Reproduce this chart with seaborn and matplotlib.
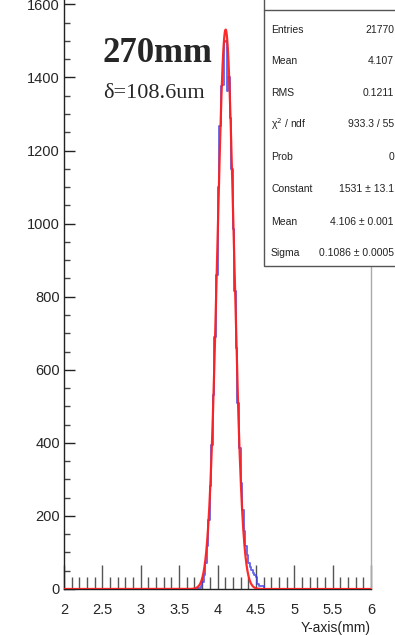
import numpy as np
import pandas as pd
import matplotlib
matplotlib.use("Agg")
import matplotlib.pyplot as plt
import seaborn as sns
from matplotlib.patches import Rectangle
from matplotlib.ticker import MultipleLocator

# ---- data ----
bin_edges_start = 3.70
bin_width = 0.02
hist_counts = [0, 0, 2, 4, 9, 20, 38, 70, 118, 190, 282, 395, 530, 690, 860,
               1100, 1266, 1378, 1380, 1496, 1500, 1362, 1400, 1290, 1150,
               985, 815, 660, 510, 385, 290, 215, 160, 118, 92, 72, 60, 52,
               45, 38, 33, 14, 8, 8, 8, 1]
fit_constant = 1531.0
fit_mean = 4.106
fit_sigma = 0.1086
stat_labels = ["Entries", "Mean", "RMS", "\u03c7$^2$ / ndf", "Prob",
               "Constant", "Mean", "Sigma"]
stat_values = ["21770", "4.107", "0.1211", "933.3 / 55", "0",
               "1531 \u00b1 13.1", "4.106 \u00b1 0.001", "0.1086 \u00b1 0.0005"]
x_ticks = [2, 2.5, 3, 3.5, 4, 4.5, 5, 5.5, 6]
x_tick_labels = ["2", "2.5", "3", "3.5", "4", "4.5", "5", "5.5", "6"]
y_ticks = [0, 200, 400, 600, 800, 1000, 1200, 1400, 1600]
title_text = "270mm"
sub_text = "\u03b4=108.6um"
x_label = "Y-axis(mm)"

n = len(hist_counts)
n_left = int(round((bin_edges_start - 2.0) / bin_width))
n_total = int(round(4.0 / bin_width))
all_centers = 2.0 + bin_width * (np.arange(n_total) + 0.5)
all_counts = np.zeros(n_total)
all_counts[n_left:n_left + n] = hist_counts
df_hist = pd.DataFrame({"x": all_centers, "w": all_counts})

xf = np.linspace(2, 6, 1600)
df_fit = pd.DataFrame({"x": xf,
                       "y": fit_constant * np.exp(-0.5 * ((xf - fit_mean) / fit_sigma) ** 2)})

# ---- style ----
sns.set_style("white")
plt.rcParams["font.family"] = ["Liberation Sans Narrow", "Liberation Sans", "DejaVu Sans"]

W, H = 395, 635
fig = plt.figure(figsize=(W / 100, H / 100), dpi=100)
ax = fig.add_axes([64 / W, 46 / H, (371 - 64) / W, (H - 46) / H])

sns.histplot(data=df_hist, x="x", weights="w", binwidth=bin_width, binrange=(2.0, 6.0),
             element="step", fill=False, color="#3c3ce6", linewidth=1.3, alpha=0.8, ax=ax,
             zorder=2)
sns.lineplot(data=df_fit, x="x", y="y", color="#ff1f1f", linewidth=1.6, alpha=0.95,
             ax=ax, zorder=3)

ax.set_xlim(2, 6)
ax.set_ylim(0, 1612)
ax.set_xticks(x_ticks)
ax.set_xticklabels(x_tick_labels)
ax.set_yticks(y_ticks)
ax.set_yticklabels([str(v) for v in y_ticks])
ax.xaxis.set_minor_locator(MultipleLocator(0.1))
ax.yaxis.set_minor_locator(MultipleLocator(50))
ax.tick_params(axis="x", which="major", direction="in", length=17, width=1,
               color="#555555", labelsize=10.5, pad=10, bottom=True)
ax.tick_params(axis="x", which="minor", direction="in", length=9, width=1,
               color="#555555", bottom=True)
ax.tick_params(axis="y", which="major", direction="in", length=8, width=1,
               color="#222222", labelsize=10.5, pad=3, left=True)
ax.tick_params(axis="y", which="minor", direction="in", length=4, width=1,
               color="#444444", left=True)
ax.set_xlabel("")
ax.set_ylabel("")
for side in ["left", "bottom"]:
    ax.spines[side].set_color("#222222")
    ax.spines[side].set_linewidth(1.0)
ax.spines["top"].set_visible(False)
ax.spines["right"].set_color("#aaaaaa")
ax.spines["right"].set_linewidth(1.0)

fig.text(371 / W, 1 - 628 / H, x_label, ha="right", va="center", fontsize=10,
         color="#222222")

# big annotations
fig.text(103 / W, 1 - 53 / H, title_text, ha="left", va="center",
         fontsize=25, fontweight="bold", family=["Liberation Serif", "DejaVu Serif"])
fig.text(103 / W, 1 - 93 / H, sub_text, ha="left", va="center",
         fontsize=16, family=["Liberation Serif", "DejaVu Serif"])

# stats box
box = Rectangle((264 / W, 1 - 266 / H), (W + 5 - 264) / W, (266 + 5) / H,
                transform=fig.transFigure, facecolor="white", edgecolor="#555555",
                linewidth=1.0, zorder=5)
fig.patches.append(box)
fig.add_artist(plt.Line2D([264 / W, 1], [1 - 10 / H, 1 - 10 / H],
                          transform=fig.transFigure, color="#555555", lw=1.0, zorder=6))
row_y = [30, 61, 93, 124, 157, 189, 222, 253]
for lab, val, yy in zip(stat_labels, stat_values, row_y):
    fig.text(271 / W, 1 - yy / H, lab, ha="left", va="center", fontsize=7.5,
             color="#222222", zorder=7)
    fig.text(394 / W, 1 - yy / H, val, ha="right", va="center", fontsize=7.5,
             color="#222222", zorder=7)

fig.savefig("out.png", dpi=100, facecolor="white")
